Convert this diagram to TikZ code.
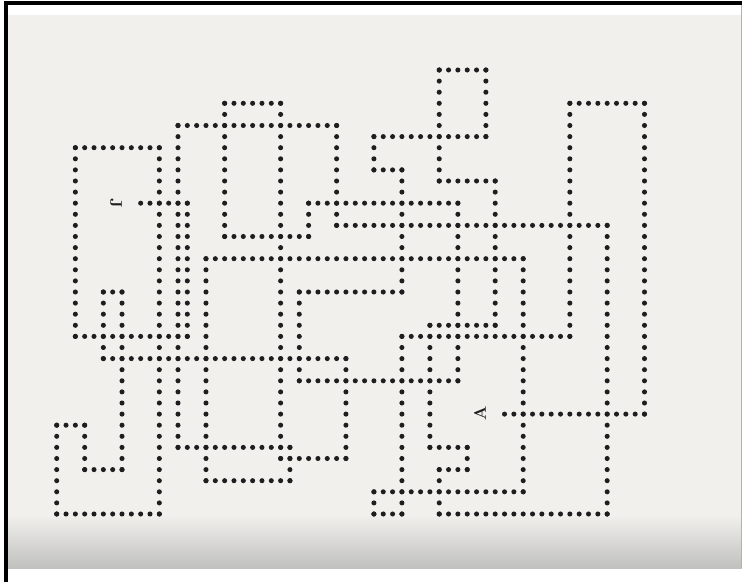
\documentclass[tikz,border=0pt]{standalone}
\usepackage{tikz}
\usetikzlibrary{positioning}
\definecolor{paper}{RGB}{241,240,237}
\definecolor{shadow}{RGB}{192,192,190}
\definecolor{ink}{RGB}{30,30,30}

% one typed dot at column #1, row #2
\newcommand{\typedot}[2]{\fill[dot] ({56.7+9.33*#1},{70+11.1*#2}) circle (1.8pt);}

\begin{document}
\begin{tikzpicture}[x=0.025cm,y=-0.025cm,
    dot/.style={fill=ink},
    marklabel/.style={font=\bfseries\large, text=ink, inner sep=0pt}]

    % scanned sheet: paper, shadow at the foot, black edges
    \useasboundingbox (0,0) rectangle (742,582);
    \fill[white] (0,0) rectangle (742,582);
    \fill[paper] (6,15) rectangle (742,515);
    \shade[top color=paper, bottom color=shadow] (6,515) rectangle (742,568);
    \draw[gray!60, line width=0.5pt] (741,3) -- (741,568);
    \draw[line width=2.2pt, black] (6,582) -- (6,3) -- (742,3);

    % horizontal runs of dots: row / first column / last column
    \foreach \r/\a/\b in {0/41/46, 3/18/24, 3/55/63, 5/13/30, 6/34/46,
                          7/2/11, 9/34/37, 10/41/47, 12/9/14, 12/27/43,
                          14/30/59, 15/18/27, 17/16/50, 20/5/7, 20/26/37,
                          23/40/47, 24/2/14, 24/37/55, 26/5/31, 28/26/43,
                          31/48/63, 32/0/3, 34/13/25, 34/40/44, 35/24/31,
                          36/3/7, 36/41/44, 37/16/25, 38/34/50, 40/0/11,
                          40/34/37, 40/41/59}{
        \foreach \c in {\a,...,\b}{\typedot{\c}{\r}}
    }

    % vertical runs of dots: column / first row / last row
    \foreach \c/\a/\b in {0/32/40, 2/7/24, 3/32/36, 5/20/26, 7/20/36,
                          11/7/40, 13/5/34, 14/12/24, 16/17/37, 18/3/15,
                          24/3/35, 25/34/37, 26/20/28, 27/12/15, 30/5/14,
                          31/26/35, 34/6/9, 34/38/40, 37/9/20, 37/24/40,
                          40/23/34, 41/0/10, 41/36/40, 43/12/28, 44/34/36,
                          46/0/6, 47/10/23, 50/17/38, 55/3/24, 59/14/40,
                          63/3/31}{
        \foreach \r in {\a,...,\b}{\typedot{\c}{\r}}
    }

    % the two typed letters
    \node[marklabel, rotate=-90] (letterJ) at (116,203) {J};
    \node[marklabel, rotate=90] (letterA) at (480,413) {A};

\end{tikzpicture}
\end{document}
